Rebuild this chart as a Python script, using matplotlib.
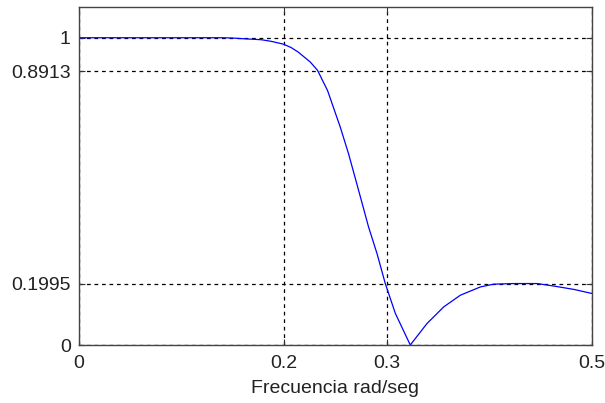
import numpy as np
import matplotlib
matplotlib.use('Agg')
import matplotlib.pyplot as plt

#Magnitude response (frequency, |H|)
freq = [0.0, 0.05, 0.10, 0.14, 0.15, 0.159, 0.178, 0.188, 0.1995, 0.207, 0.214, 0.2256,
        0.2327, 0.2425, 0.2549, 0.263, 0.2728, 0.2825, 0.2907, 0.2988, 0.3086,
        0.3232, 0.3395, 0.3558, 0.372, 0.3916, 0.4046, 0.4241, 0.447, 0.463, 0.4827, 0.5]
mag = [1.0, 1.0, 1.0, 1.0, 0.999, 0.997, 0.9935, 0.988, 0.979, 0.968, 0.953, 0.921,
       0.894, 0.828, 0.709, 0.622, 0.503, 0.384, 0.298, 0.200, 0.103,
       0.0, 0.070, 0.124, 0.162, 0.189, 0.198, 0.200, 0.200, 0.192, 0.181, 0.168]

#Tick positions and the dashed reference lines
xticks = [0, 0.2, 0.3, 0.5]
xticklabels = ['0', '0.2', '0.3', '0.5']
yticks = [0, 0.1995, 0.8913, 1]
yticklabels = ['0', '0.1995', '0.8913', '1']

plt.rcParams['font.family'] = ['Liberation Sans', 'DejaVu Sans']

fig = plt.figure(figsize=(6.05, 4.03), dpi=100)
ax = fig.add_axes([0.1306, 0.1439, 0.8471, 0.8387])

ax.plot(freq, mag, color='#0000ff', linewidth=0.9)

ax.set_xlim(0, 0.5)
ax.set_ylim(0, 1.1)
ax.set_xticks(xticks)
ax.set_xticklabels(xticklabels)
ax.set_yticks(yticks)
ax.set_yticklabels(yticklabels)
ax.tick_params(direction='in', length=4, width=0.8, labelsize=14, colors='#333333',
               labelcolor='#222222', top=True, right=True)
ax.tick_params(axis='x', pad=7)
ax.tick_params(axis='y', pad=6)
ax.grid(True, color='black', linestyle=(0, (3, 3)), linewidth=0.9)
for sp in ax.spines.values():
    sp.set_color('#444444')
    sp.set_linewidth(1.0)

ax.set_xlabel('Frecuencia rad/seg', fontsize=14, color='#222222', labelpad=6)

plt.savefig('out.png', dpi=100)
